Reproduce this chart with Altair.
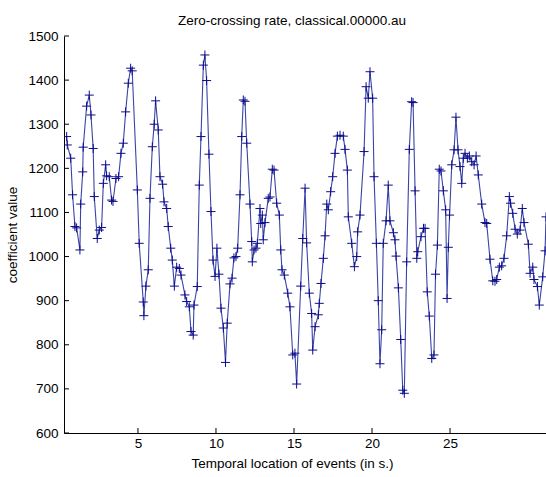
import altair as alt
import pandas as pd

# ---- data ----
time_s = [0.43,0.47,0.69,0.81,0.96,1.07,1.28,1.33,1.46,1.49,
          1.71,1.88,1.99,2.13,2.20,2.39,2.52,2.67,2.78,2.93,
          2.99,3.16,3.31,3.40,3.59,3.76,3.91,4.06,4.21,4.38,
          4.53,4.63,4.96,5.08,5.34,5.38,5.51,5.66,5.77,5.92,
          6.04,6.13,6.30,6.41,6.58,6.67,6.84,6.94,7.10,7.20,
          7.33,7.48,7.65,7.76,8.01,8.12,8.29,8.40,8.54,8.59,
          8.80,8.93,9.04,9.19,9.29,9.40,9.55,9.68,9.81,9.94,
          10.06,10.19,10.32,10.47,10.61,10.72,10.90,11.03,11.15,11.28,
          11.39,11.54,11.65,11.75,11.86,11.97,12.18,12.29,12.33,12.44,
          12.56,12.65,12.82,12.87,12.97,13.03,13.14,13.35,13.46,13.61,
          13.72,13.89,14.06,14.15,14.23,14.38,14.60,14.74,14.92,15.06,
          15.17,15.43,15.56,15.71,15.81,15.98,16.13,16.20,16.35,16.56,
          16.62,16.73,16.88,16.99,17.10,17.20,17.35,17.48,17.63,17.78,
          17.95,18.16,18.27,18.42,18.48,18.70,18.87,19.02,19.08,19.23,
          19.49,19.62,19.76,19.87,20.04,20.13,20.28,20.40,20.51,20.62,
          20.72,20.90,21.04,21.15,21.37,21.47,21.54,21.69,21.84,21.97,
          22.07,22.22,22.39,22.54,22.63,22.76,22.87,22.93,23.14,23.30,
          23.40,23.54,23.67,23.83,23.97,24.07,24.19,24.31,24.42,24.57,
          24.72,24.81,24.89,24.97,25.11,25.26,25.38,25.51,25.64,25.75,
          25.85,25.96,26.11,26.24,26.39,26.54,26.67,26.81,27.03,27.24,
          27.35,27.56,27.74,27.88,27.99,28.16,28.31,28.46,28.63,28.80,
          28.88,29.02,29.17,29.31,29.49,29.63,29.74,30.02,30.13,30.30,
          30.38,30.60,30.72,30.94,31.09,31.15]

zcr = [1272,1253,1223,1140,1068,1065,1015,1119,1192,1248,
       1341,1366,1321,1245,1136,1041,1060,1066,1166,1208,
       1183,1181,1128,1125,1177,1181,1234,1257,1328,1393,
       1427,1421,1151,1030,897,866,933,970,1132,1249,
       1300,1353,1287,1181,1164,1124,1109,1068,1019,992,
       933,976,973,958,913,898,886,830,822,890,
       932,1162,1272,1434,1457,1399,1232,1102,992,955,
       1019,960,883,838,760,849,938,951,997,1000,
       1019,1140,1272,1355,1352,1257,1119,1034,988,1015,
       1019,1030,1109,1075,1094,1038,1077,1132,1135,1198,
       1196,1121,1094,1015,970,958,917,886,777,781,
       711,933,1041,1155,1031,917,871,788,841,868,
       894,939,996,1047,1119,1106,1147,1181,1234,1273,
       1275,1273,1243,1196,1090,1030,977,1000,1056,1094,
       1238,1385,1359,1419,1359,1181,1030,900,757,834,
       1030,1081,1162,1081,1054,1038,1001,929,812,697,
       690,988,1243,1351,1349,1149,996,1011,1045,1064,
       1064,920,865,769,777,960,1026,1198,1194,1149,
       1106,905,1021,1094,1208,1242,1316,1242,1204,1166,
       1223,1234,1223,1228,1215,1208,1228,1185,1119,1077,
       1075,994,945,944,948,976,979,996,1047,1136,
       1121,1098,1062,1051,1060,1109,1077,1028,962,976,
       948,932,890,954,1013,1090]

x_ticks = [5, 10, 15, 20, 25]
y_ticks = [600, 700, 800, 900, 1000, 1100, 1200, 1300, 1400, 1500]

title_text = "Zero-crossing rate, classical.00000.au"
x_title = "Temporal location of events (in s.)"
y_title = "coefficient value"

# ---- layout ----
W, H = 482, 397
X_DOMAIN = [0.26, 31.15]
Y_DOMAIN = [600, 1500]
FONT = "Liberation Sans, Arial, sans-serif"
FS = 13.5
LINE_COLOR = "#3a44a6"
MARK_COLOR = "#0c0c8c"

df = pd.DataFrame({"t": time_s, "v": zcr})
xt = pd.DataFrame({"t": x_ticks})
yt = pd.DataFrame({"v": y_ticks})

xscale = alt.Scale(domain=X_DOMAIN, nice=False, zero=False)
yscale = alt.Scale(domain=Y_DOMAIN, nice=False, zero=False)

x_axis = alt.Axis(values=x_ticks, format="d", tickSize=0, labelPadding=3, grid=False,
                  title=x_title, titleX=228, titleY=30, titleAlign="center",
                  titleBaseline="middle", labelFlush=False,
                  labelFont=FONT, labelFontSize=FS, labelColor="black",
                  titleFont=FONT, titleFontSize=FS, titleFontWeight="normal",
                  titleColor="black", domainColor="black", domainWidth=1)
y_axis = alt.Axis(values=y_ticks, format="d", tickSize=0, labelPadding=6, grid=False,
                  title=y_title, titleX=-52, titleY=H / 2, titleAngle=-90,
                  titleAlign="center", titleBaseline="middle", labelFlush=False,
                  labelFont=FONT, labelFontSize=FS, labelColor="black",
                  titleFont=FONT, titleFontSize=FS, titleFontWeight="normal",
                  titleColor="black", domainColor="black", domainWidth=1)

line = alt.Chart(df).mark_line(color=LINE_COLOR, strokeWidth=1.1, clip=True).encode(
    x=alt.X("t:Q", scale=xscale, axis=x_axis),
    y=alt.Y("v:Q", scale=yscale, axis=y_axis),
)

pts = alt.Chart(df).mark_point(
    shape="M-1,0L1,0M0,-1L0,1", size=81, filled=False,
    stroke=MARK_COLOR, strokeWidth=1, opacity=1, clip=True,
).encode(
    x=alt.X("t:Q", scale=xscale),
    y=alt.Y("v:Q", scale=yscale),
)

# inward tick marks (MATLAB style)
xtick_marks = alt.Chart(xt).mark_rule(color="black", strokeWidth=1).encode(
    x=alt.X("t:Q", scale=xscale),
    y=alt.value(H),
    y2=alt.value(H - 5),
)
ytick_marks = alt.Chart(yt).mark_rule(color="black", strokeWidth=1).encode(
    y=alt.Y("v:Q", scale=yscale),
    x=alt.value(0),
    x2=alt.value(5),
)

chart = alt.layer(line, pts, xtick_marks, ytick_marks).properties(
    width=W,
    height=H,
    background="white",
    padding={"left": 64, "top": 36, "right": 0, "bottom": 44},
    autosize=alt.AutoSizeParams(type="none"),
    title=alt.TitleParams(text=title_text, anchor="middle", dx=-13, dy=20, offset=11,
                          baseline="alphabetic", frame="group",
                          font=FONT, fontSize=FS, fontWeight="normal", color="black"),
).configure_view(stroke=None)

chart.save("out.html", embed_options={"renderer": "svg", "actions": False})
